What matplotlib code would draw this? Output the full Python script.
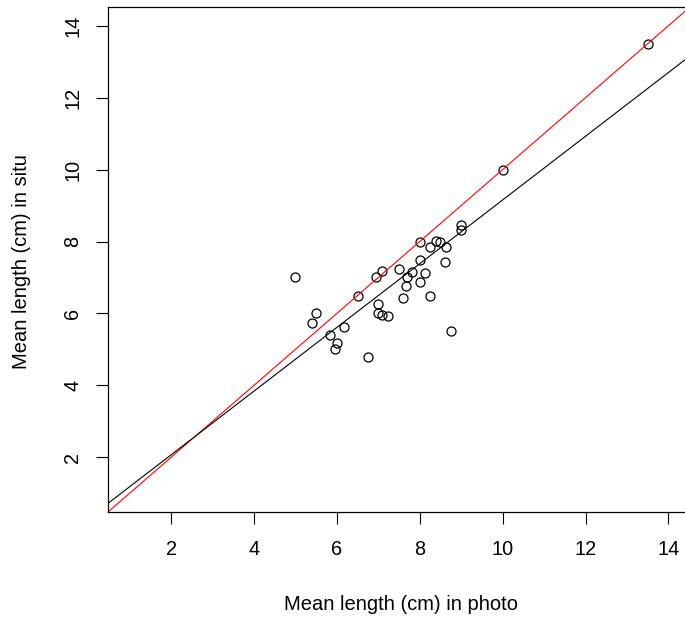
import numpy as np
import matplotlib
matplotlib.use("Agg")
import matplotlib.pyplot as plt

plt.rcParams['font.family'] = ['Liberation Sans', 'DejaVu Sans']

# mean lengths
photo = [5.0, 5.5, 5.4, 5.84, 6.0, 5.95, 6.18, 6.5, 6.75, 6.95, 7.08, 7.0, 7.0, 7.1,
         7.24, 7.5, 7.6, 7.68, 7.7, 7.82, 8.0, 8.0, 8.0, 8.12, 8.24, 8.24, 8.4, 8.5,
         8.6, 8.64, 8.75, 9.0, 9.0, 10.0, 13.5]
situ = [7.0, 6.0, 5.73, 5.4, 5.17, 5.0, 5.62, 6.48, 4.78, 7.0, 7.19, 6.26, 6.0, 5.97,
        5.93, 7.23, 6.42, 6.76, 7.02, 7.16, 8.0, 7.5, 6.87, 7.13, 7.84, 6.48, 8.02, 7.99,
        7.42, 7.86, 5.51, 8.47, 8.32, 10.0, 13.5]

# fitted line (intercept, slope) and the 1:1 line
fit_coef = (0.295, 0.886)
one_to_one = (0.0, 1.0)

lims = (0.48, 14.52)
ticks = [2, 4, 6, 8, 10, 12, 14]

W, H = 685, 622
fig = plt.figure(figsize=(W / 100, H / 100), dpi=100)
ax = fig.add_axes([108 / W, 1 - 512 / H, (690 - 108) / W, (512 - 7) / H])

ax.plot(photo, situ, 'o', mfc='none', mec='black', ms=6.5, mew=0.9)
ax.axline((0, one_to_one[0]), slope=one_to_one[1], color='red', lw=0.8)
ax.axline((0, fit_coef[0]), slope=fit_coef[1], color='black', lw=0.8)

ax.set_xlim(lims)
ax.set_ylim(lims)
ax.set_xticks(ticks)
ax.set_yticks(ticks)
ax.tick_params(length=8.5, width=0.8, labelsize=14.3)
ax.tick_params(axis='x', pad=12)
ax.tick_params(axis='y', labelrotation=90, pad=10)
for lab in ax.get_yticklabels():
    lab.set_va('center')
for s in ax.spines.values():
    s.set_linewidth(0.9)

fig.text(401 / W, 1 - 604 / H, 'Mean length (cm) in photo', ha='center', va='center', fontsize=14.5)
fig.text(22 / W, 1 - 262 / H, 'Mean length (cm) in situ', ha='center', va='center',
         rotation=90, fontsize=14.5)

fig.savefig('out.png', dpi=100)
